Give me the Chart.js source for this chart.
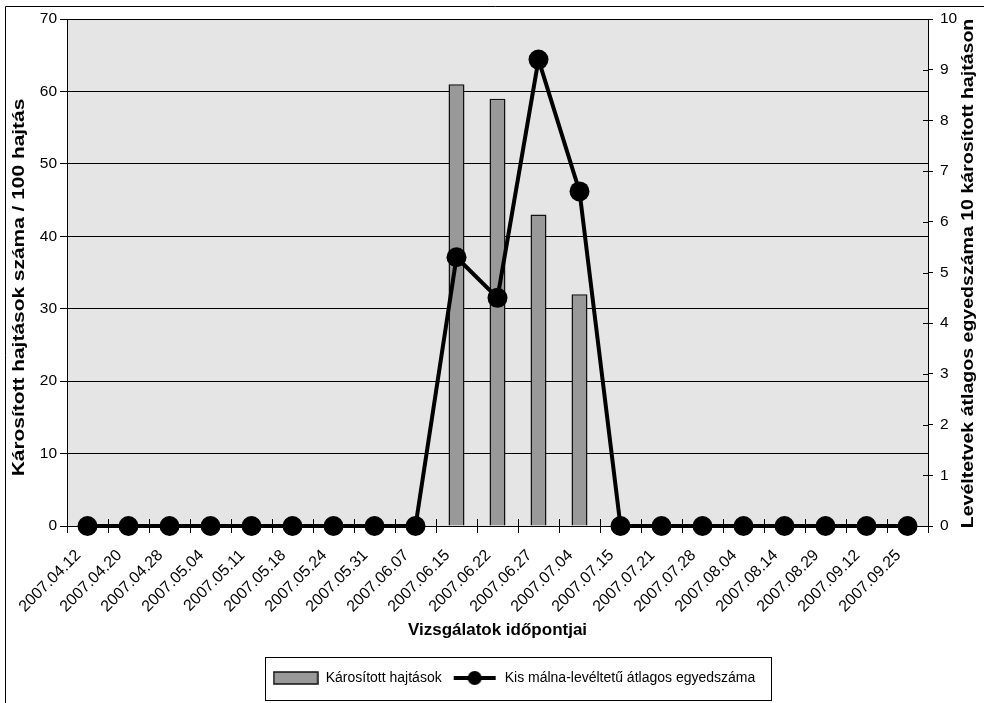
<!DOCTYPE html>
<html>
<head>
<meta charset="utf-8">
<script src="https://cdn.jsdelivr.net/npm/chart.js@4.4.1/dist/chart.umd.min.js"></script>
<style>
  html, body { margin: 0; padding: 0; background: #fff; }
  #wrap { width: 984px; height: 703px; position: relative; }
</style>
</head>
<body>
<div id="wrap"><canvas id="c"></canvas></div>
<script>
// vizsgálati időpontok
var dates = ["2007.04.12", "2007.04.20", "2007.04.28", "2007.05.04", "2007.05.11",
             "2007.05.18", "2007.05.24", "2007.05.31", "2007.06.07", "2007.06.15",
             "2007.06.22", "2007.06.27", "2007.07.04", "2007.07.15", "2007.07.21",
             "2007.07.28", "2007.08.04", "2007.08.14", "2007.08.29", "2007.09.12",
             "2007.09.25"];

// károsított hajtások / 100 hajtás (bal tengely)
var damaged = [0, 0, 0, 0, 0, 0, 0, 0, 0, 61, 59, 43, 32, 0, 0, 0, 0, 0, 0, 0, 0];

// levéltetvek átlagos egyedszáma (jobb tengely)
var aphids  = [0, 0, 0, 0, 0, 0, 0, 0, 0, 5.3, 4.5, 9.2, 6.6, 0, 0, 0, 0, 0, 0, 0, 0];

var leftTicks  = [0, 10, 20, 30, 40, 50, 60, 70];
var rightTicks = [0, 1, 2, 3, 4, 5, 6, 7, 8, 9, 10];

var FONT = "'Liberation Sans', Arial, sans-serif";
var LEG_FONT = 14;
var PAD_BOTTOM = 8;
var PLOT_BOTTOM = 526;
var legendH = LEG_FONT + 10 + 10;

// small legend symbols, same look as the series
function mkSym(kind) {
  var cv = document.createElement("canvas");
  cv.width = 46; cv.height = 16;
  var g = cv.getContext("2d");
  if (kind === "bar") {
    g.fillStyle = "#999999";
    g.fillRect(1, 2, 44, 12);
    g.strokeStyle = "#111";
    g.lineWidth = 1.5;
    g.strokeRect(1, 2, 44, 12);
  } else {
    g.fillStyle = "#000";
    g.fillRect(2, 6, 42, 4);
    g.beginPath();
    g.arc(23, 8, 7, 0, Math.PI * 2);
    g.fill();
  }
  return cv;
}

// the original picture is a bit stretched vertically, so the upright titles run longer
function vTitle(ctx, txt, x, y, stretch) {
  ctx.save();
  ctx.translate(x, y);
  ctx.rotate(-Math.PI / 2);
  ctx.scale(stretch, 1);
  ctx.fillStyle = "#000";
  ctx.font = "bold 17px " + FONT;
  ctx.textAlign = "center";
  ctx.textBaseline = "middle";
  ctx.fillText(txt, 0, 0);
  ctx.restore();
}

var frame = {
  id: "frame",
  afterLayout: function(chart) {
    // legend sits a bit right of centre in the original
    chart.legend.left += 21;
    chart.legend.right += 21;
  },
  beforeDraw: function(chart) {
    var ctx = chart.ctx, a = chart.chartArea;
    ctx.save();
    ctx.fillStyle = "#e5e5e5";
    ctx.fillRect(a.left, a.top, a.right - a.left, a.bottom - a.top);
    // outer border, only top and left visible in the picture
    ctx.strokeStyle = "#000";
    ctx.lineWidth = 1;
    ctx.beginPath();
    ctx.moveTo(5.5, 710);
    ctx.lineTo(5.5, 6.5);
    ctx.lineTo(990, 6.5);
    ctx.stroke();
    ctx.restore();
  },
  afterDraw: function(chart) {
    var ctx = chart.ctx, a = chart.chartArea;
    var x = chart.scales.x, y1 = chart.scales.y1;
    ctx.save();
    ctx.strokeStyle = "#000";
    ctx.lineWidth = 1;
    ctx.beginPath();
    // inner halves of the crossing tick marks
    var n = dates.length;
    for (var i = 0; i <= n; i++) {
      var px = Math.round(x.getPixelForValue(i - 0.5)) + 0.5;
      ctx.moveTo(px, a.bottom - 7);
      ctx.lineTo(px, a.bottom);
    }
    for (var j = 0; j < rightTicks.length; j++) {
      var py = Math.round(y1.getPixelForValue(rightTicks[j])) + 0.5;
      ctx.moveTo(a.right - 5, py);
      ctx.lineTo(a.right, py);
    }
    ctx.stroke();
    ctx.restore();

    var mid = (a.top + a.bottom) / 2;
    vTitle(ctx, "Károsított hajtások száma / 100 hajtás", 19, mid + 15, 1.23);
    vTitle(ctx, "Levéltetvek átlagos egyedszáma 10 károsított hajtáson", 968, mid + 1, 1.15);

    // legend box
    var hb = chart.legend.legendHitBoxes;
    if (hb && hb.length) {
      var last = hb[hb.length - 1];
      var cy = hb[0].top + hb[0].height / 2;
      ctx.save();
      ctx.strokeStyle = "#000";
      ctx.lineWidth = 1;
      var l = Math.round(hb[0].left - 8) + 0.5;
      var r = Math.round(last.left + last.width + 16) + 0.5;
      ctx.strokeRect(l, Math.round(cy - 21) + 0.5, r - l, 43);
      ctx.restore();
    }
  }
};

new Chart(document.getElementById("c"), {
  type: "bar",
  data: {
    labels: dates,
    datasets: [
      {
        type: "line",
        label: "Kis málna-levéltetű átlagos egyedszáma",
        data: aphids,
        yAxisID: "y1",
        borderColor: "#000",
        backgroundColor: "#000",
        borderWidth: 4,
        pointRadius: 10,
        pointHoverRadius: 10,
        pointBackgroundColor: "#000",
        pointBorderWidth: 0,
        tension: 0,
        clip: false,
        order: 1
      },
      {
        label: "Károsított hajtások",
        data: damaged,
        yAxisID: "y",
        backgroundColor: "#999999",
        borderColor: "#111",
        borderWidth: 1.5,
        categoryPercentage: 1,
        barPercentage: 0.39,
        order: 2
      }
    ]
  },
  plugins: [frame],
  options: {
    responsive: true,
    maintainAspectRatio: false,
    animation: false,
    layout: { padding: { left: 8, right: 6, top: 19, bottom: PAD_BOTTOM } },
    plugins: {
      tooltip: { enabled: false },
      legend: {
        position: "bottom",
        labels: {
          usePointStyle: true,
          pointStyleWidth: 46,
          padding: 10,
          color: "#000",
          font: { family: FONT, size: LEG_FONT },
          generateLabels: function(chart) {
            return [
              { text: "Károsított hajtások", pointStyle: mkSym("bar"), fontColor: "#000",
                datasetIndex: 1, lineWidth: 0, strokeStyle: "transparent", fillStyle: "#999" },
              { text: "Kis málna-levéltetű átlagos egyedszáma", pointStyle: mkSym("line"), fontColor: "#000",
                datasetIndex: 0, lineWidth: 0, strokeStyle: "transparent", fillStyle: "#000" }
            ];
          }
        }
      }
    },
    scales: {
      x: {
        offset: true,
        grid: { offset: true, drawOnChartArea: false, color: "#000", tickLength: 7 },
        border: { color: "#000", width: 1 },
        ticks: {
          color: "#000",
          font: { family: FONT, size: 16 },
          autoSkip: false,
          minRotation: 45,
          maxRotation: 45,
          labelOffset: -9,
          padding: 13
        },
        title: {
          display: true,
          text: "Vizsgálatok időpontjai",
          color: "#000",
          font: { family: FONT, size: 17, weight: "bold" },
          padding: { top: 0, bottom: 20 }
        },
        afterFit: function(s) { s.height = 703 - PAD_BOTTOM - legendH - PLOT_BOTTOM; }
      },
      y: {
        position: "left",
        min: 0, max: 70,
        afterBuildTicks: function(s) { s.ticks = leftTicks.map(function(v) { return { value: v }; }); },
        grid: { color: "#000", tickLength: 7 },
        border: { color: "#000", width: 1 },
        ticks: { color: "#000", font: { family: FONT, size: 15.5 }, padding: 3 },
        afterFit: function(s) { s.width = 59; }
      },
      y1: {
        position: "right",
        min: 0, max: 10,
        afterBuildTicks: function(s) { s.ticks = rightTicks.map(function(v) { return { value: v }; }); },
        grid: { drawOnChartArea: false, color: "#000", tickLength: 5 },
        border: { color: "#000", width: 1 },
        ticks: { color: "#000", font: { family: FONT, size: 15.5 }, padding: 7 },
        afterFit: function(s) { s.width = 50; }
      }
    }
  }
});
</script>
</body>
</html>
